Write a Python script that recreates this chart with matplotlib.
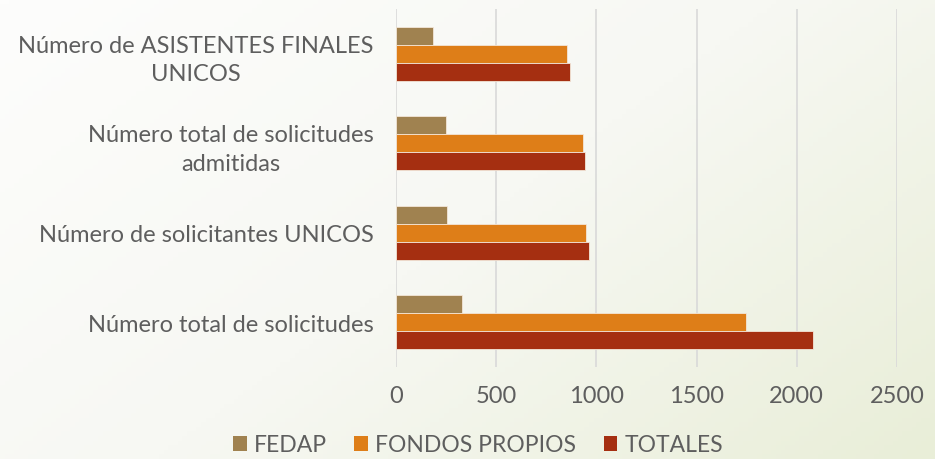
import matplotlib
matplotlib.use("Agg")
import matplotlib.pyplot as plt
import numpy as np
from matplotlib.colors import LinearSegmentedColormap
from matplotlib.patches import Patch

categories = [
    "Número total de solicitudes",
    "Número de solicitantes UNICOS",
    "Número total de solicitudes\nadmitidas",
    "Número de ASISTENTES FINALES\nUNICOS",
]
series_names = ["FEDAP", "FONDOS PROPIOS", "TOTALES"]
fedap = [330, 253, 249, 187]
fondos_propios = [1749, 950, 933, 855]
totales = [2080, 962, 943, 867]
x_ticks = [0, 500, 1000, 1500, 2000, 2500]

colors = ["#A08250", "#DE7E18", "#A52F11"]
text_color = "#5E5E5E"
plt.rcParams['font.family'] = ['Lato', 'DejaVu Sans']

fig = plt.figure(figsize=(9.35, 4.6), dpi=100)

# gradient background
bg = fig.add_axes([0, 0, 1, 1], zorder=-10)
nx, ny = 200, 100
xx, yy = np.meshgrid(np.linspace(0, 1, nx), np.linspace(0, 1, ny))
g = (xx * 0.6 + yy * 0.4)
cmap = LinearSegmentedColormap.from_list("bg", ["#FDFDFC", "#F7F8F3", "#E9EED8"])
bg.imshow(g, cmap=cmap, aspect="auto", extent=[0, 1, 0, 1], origin="upper")
bg.axis("off")

ax = fig.add_axes([396/935, 1 - 368/460, (897-396)/935, (368-10)/460])
ax.patch.set_alpha(0)

y = np.arange(len(categories))
h = 0.2
data = [fedap, fondos_propios, totales]
offsets = [h, 0, -h]
for vals, off, c, name in zip(data, offsets, colors, series_names):
    ax.barh(y + off, vals, height=h, color=c, edgecolor="#F3E6D8", linewidth=0.6,
            label=name, zorder=3)

ax.set_xlim(0, 2500)
ax.set_ylim(-0.5, len(categories) - 0.5)
ax.set_xticks(x_ticks)
ax.set_xticklabels([str(t) for t in x_ticks])
ax.set_yticks(y)
ax.set_yticklabels(categories, multialignment="center", linespacing=1.45)
ax.tick_params(axis="both", length=0, colors=text_color, labelsize=17)
ax.tick_params(axis="x", pad=13)
ax.tick_params(axis="y", pad=16)
ax.xaxis.grid(True, color="#D9D9D9", linewidth=1.2, zorder=0)
for s in ax.spines.values():
    s.set_visible(False)

handles = [Patch(facecolor=c, edgecolor="none") for c in colors]
fig.legend(handles, series_names, loc="center", bbox_to_anchor=(478/935, 1 - 446/460),
           ncol=3, frameon=False, fontsize=16.5, labelcolor=text_color,
           handlelength=0.6, handleheight=0.6, handletextpad=0.3, columnspacing=1.2)

fig.savefig("out.png", dpi=100)
